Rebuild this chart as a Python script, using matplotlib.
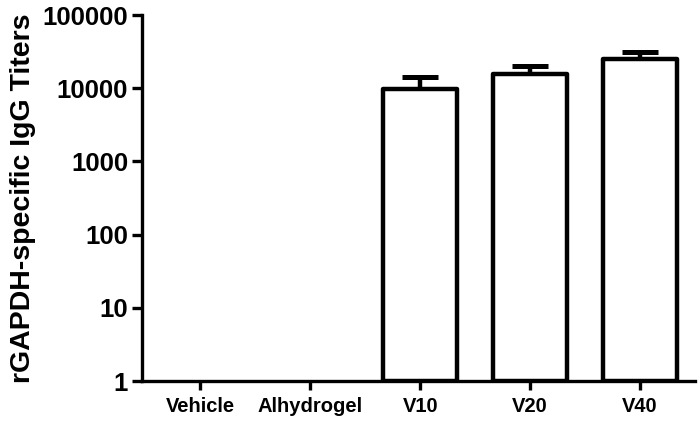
import matplotlib.pyplot as plt
import matplotlib.ticker as mticker
import numpy as np

# Dados (títulos de IgG específicos para rGAPDH)
groups = ["Vehicle", "Alhydrogel", "V10", "V20", "V40"]
titers = [np.nan, np.nan, 9800, 15600, 25000]
err_up = [np.nan, np.nan, 4400, 4700, 6000]
y_ticks = [1, 10, 100, 1000, 10000, 100000]

plt.rcParams['font.family'] = ['Liberation Sans', 'DejaVu Sans']
plt.rcParams['font.weight'] = 'bold'

fig = plt.figure(figsize=(7, 4.21), dpi=100)
ax = fig.add_axes([0.203, 0.095, 0.79, 0.869])

x = np.arange(len(groups))
bars = ax.bar(x, np.array(titers) - 1, bottom=1, width=0.67, color='white',
              edgecolor='black', linewidth=3.2, zorder=2)
for b in bars:
    b.set_joinstyle('round')
ax.errorbar(x, titers, yerr=[np.zeros(len(x)), err_up], fmt='none',
            ecolor='black', elinewidth=3.2, capsize=13, capthick=3.6, zorder=1)

ax.set_yscale('log')
ax.set_ylim(1, 100000)
ax.set_xlim(-0.53, 4.5)
ax.yaxis.set_major_locator(mticker.FixedLocator(y_ticks))
ax.yaxis.set_minor_locator(mticker.NullLocator())
ax.yaxis.set_major_formatter(mticker.FuncFormatter(lambda v, p: f"{int(v)}"))
ax.set_xticks(x)
ax.set_xticklabels(groups, fontsize=14.5, fontweight='bold')
for lab in ax.get_yticklabels():
    lab.set_fontsize(18.5)
    lab.set_fontweight('bold')

ax.set_ylabel("rGAPDH-specific IgG Titers", fontsize=20.5, fontweight='bold', labelpad=5)

for side in ['top', 'right']:
    ax.spines[side].set_visible(False)
for side in ['left', 'bottom']:
    ax.spines[side].set_linewidth(2.4)
ax.tick_params(axis='y', length=7, width=2.4, pad=3)
ax.tick_params(axis='x', length=6.5, width=2.4, pad=5)

fig.savefig("out.png", dpi=100)
